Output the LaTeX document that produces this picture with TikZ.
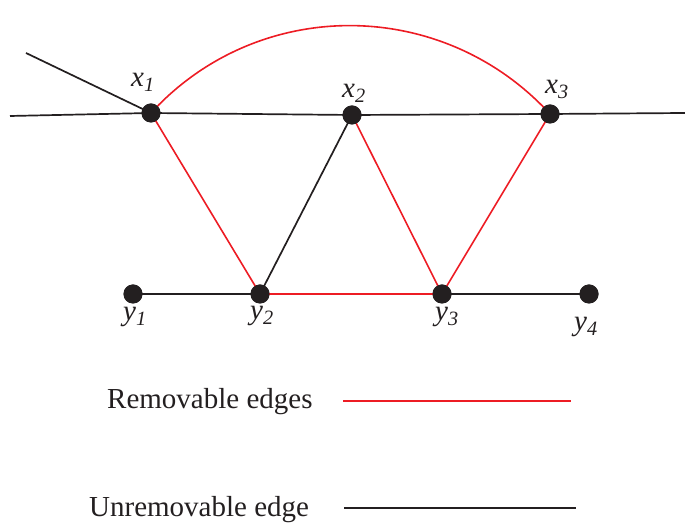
\documentclass[tikz,border=0pt]{standalone}
\usepackage{fontspec}
\setmainfont{Liberation Serif}
\definecolor{edgered}{RGB}{237,28,36}
\definecolor{edgeblack}{RGB}{35,31,32}
\begin{document}
\begin{tikzpicture}[x=1pt,y=1pt,
  vert/.style={circle,fill=edgeblack,inner sep=0pt,minimum size=19pt},
  rem/.style={draw=edgered,line width=1.6pt},
  unrem/.style={draw=edgeblack,line width=1.7pt},
  lab/.style={anchor=base west,inner sep=0pt,font=\fontsize{29}{30}\selectfont\itshape,text=edgeblack},
  legend/.style={anchor=base west,inner sep=0pt,font=\fontsize{29}{30}\selectfont,text=edgeblack}]
\useasboundingbox (0,0) rectangle (685,524);
% vertices
\node[vert] (x1) at (151,411) {};
\node[vert] (x2) at (352,409) {};
\node[vert] (x3) at (550,410) {};
\node[vert] (y1) at (133,230) {};
\node[vert] (y2) at (260,230) {};
\node[vert] (y3) at (442,230) {};
\node[vert] (y4) at (589,230) {};
\coordinate (L) at (10,408);
\coordinate (R) at (685,411);
\coordinate (D) at (26,471);
% unremovable edges
\draw[unrem] (L) -- (x1.center) -- (x2.center) -- (x3.center) -- (R);
\draw[unrem] (D) -- (x1.center);
\draw[unrem] (x2.center) -- (y2.center);
\draw[unrem] (y1.center) -- (y2.center);
\draw[unrem] (y3.center) -- (y4.center);
% removable edges
\draw[rem] (x1.center) .. controls (258.4,528.2) and (442.6,527.2) .. (x3.center);
\draw[rem] (x1.center) -- (y2.center);
\draw[rem] (x2.center) -- (y3.center);
\draw[rem] (x3.center) -- (y3.center);
\draw[rem] (y2.center) -- (y3.center);
% redraw vertices on top
\foreach \n in {x1,x2,x3,y1,y2,y3,y4} \fill[edgeblack] (\n) circle (9.5pt);
% labels
\node[lab] (lx1) at (131,437) {x\textsubscript{1}};
\node[lab] (lx2) at (342,426) {x\textsubscript{2}};
\node[lab] (lx3) at (545,430) {x\textsubscript{3}};
\node[lab] (ly1) at (123,203) {y\textsubscript{1}};
\node[lab] (ly2) at (250,204) {y\textsubscript{2}};
\node[lab] (ly3) at (435,203) {y\textsubscript{3}};
\node[lab] (ly4) at (574,193) {y\textsubscript{4}};
% legend
\node[legend] (t1) at (107,115) {Removable edges};
\node[legend] (t2) at (89,7) {Unremovable edge};
\coordinate (r1) at (343,123);
\coordinate (r2) at (571,123);
\coordinate (b1) at (344,16);
\coordinate (b2) at (576,16);
\draw[draw=edgered,line width=1.4pt] (r1) -- (r2);
\draw[unrem] (b1) -- (b2);
\end{tikzpicture}
\end{document}
